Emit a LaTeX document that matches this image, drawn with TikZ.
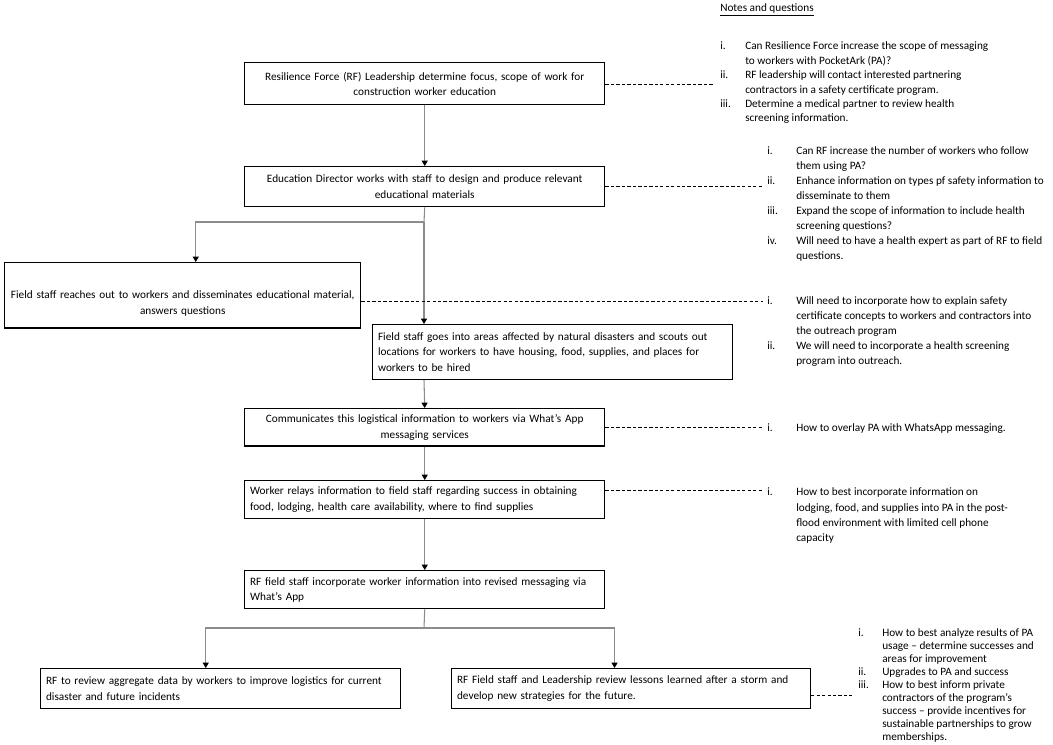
\documentclass[tikz,border=0pt]{standalone}
\usepackage{fontspec}
\setmainfont{Carlito}
\usetikzlibrary{positioning, calc, arrows.meta}

\begin{document}
\begin{tikzpicture}[x=0.75pt, y=-0.75pt]
  \tikzstyle{stepbox}=[draw, line width=1.1pt, anchor=north west, inner xsep=4pt, inner ysep=2pt, font=\fontsize{8.45}{11.6}\selectfont]
  \tikzstyle{midbox}=[stepbox, align=center, text width=262pt]
  \tikzstyle{leftbox}=[stepbox, align=left, text width=262pt]
  \tikzstyle{trunk}=[draw=black!45, line width=0.8pt]
  \tikzstyle{flow}=[trunk, -{Triangle[black, width=4.5pt, length=4pt]}]
  \tikzstyle{notelink}=[draw, dash pattern=on 2.5pt off 1.6pt, line width=0.6pt]
  \tikzstyle{notes}=[anchor=north west, inner sep=0pt, align=left, font=\fontsize{8.45}{11.3}\selectfont]

  \useasboundingbox (0,0) rectangle (1053,745);
  \fill[white] (0,0) rectangle (1053,745);

  % flow boxes
  \node (lead) at (244,62) [midbox, minimum height=31.5pt] {Resilience Force (RF) Leadership determine focus, scope of work for\\construction worker education};
  \node (edu) at (244,166) [midbox, minimum height=30pt] {Education Director works with staff to design and produce relevant\\educational materials};
  \node (reach) at (4,262) [midbox, inner xsep=1pt, text width=265pt, minimum height=49pt] {\rule{0pt}{18pt}Field staff reaches out to workers and disseminates educational material,\\answers questions};
  \node (scout) at (372,324) [leftbox, minimum height=41pt] {Field staff goes into areas affected by natural disasters and scouts out\\locations for workers to have housing, food, supplies, and places for\\workers to be hired};
  \node (comm) at (244,408) [midbox, minimum height=28pt] {Communicates this logistical information to workers via What’s App\\messaging services};
  \node (relay) at (244,480) [leftbox, minimum height=28.5pt] {Worker relays information to field staff regarding success in obtaining\\food, lodging, health care availability, where to find supplies};
  \node (revise) at (244,570) [leftbox, minimum height=28.5pt] {RF field staff incorporate worker information into revised messaging via\\What’s App};
  \node (review) at (40,668) [leftbox, minimum height=30pt] {RF to review aggregate data by workers to improve logistics for current\\disaster and future incidents};
  \node (lessons) at (451,668) [leftbox, text width=261pt, minimum height=30pt] {RF Field staff and Leadership review lessons learned after a storm and\\develop new strategies for the future.};

  % connectors
  \coordinate (split1) at (424,222);
  \coordinate (split2) at (424,628);
  \draw[flow] (lead) -- (edu);
  \draw[trunk] (edu.south) -- (split1);
  \draw[flow] (split1) -| ([xshift=9.75pt]reach.north);
  \draw[flow] (split1) -- (split1 |- scout.north);
  \draw[flow] (scout.south -| split1) -- (comm.north);
  \draw[flow] (comm) -- (relay);
  \draw[flow] (relay) -- (revise);
  \draw[trunk] (revise.south) -- (split2);
  \draw[flow] (split2) -| ([xshift=-11.25pt]review.north);
  \draw[flow] (split2) -| ([xshift=-12.4pt]lessons.north);

  % notes
  \node (title) at (720,10) [anchor=west, inner sep=0pt, font=\fontsize{8.45}{11.3}\selectfont] {\underline{Notes and questions}};
  \node (n1) at (720,39.5) [notes, font=\fontsize{8.45}{10.8}\selectfont] {\begin{tabular}{@{}p{18.75pt}@{}l@{}}
    i. & Can Resilience Force increase the scope of messaging\\
       & to workers with PocketArk (PA)?\\
    ii. & RF leadership will contact interested partnering\\
       & contractors in a safety certificate program.\\
    iii. & Determine a medical partner to review health\\
       & screening information.
  \end{tabular}};
  \node (n2) at (767,143.5) [notes] {\begin{tabular}{@{}p{21.75pt}@{}l@{}}
    i. & Can RF increase the number of workers who follow\\
       & them using PA?\\
    ii. & Enhance information on types pf safety information to\\
       & disseminate to them\\
    iii. & Expand the scope of information to include health\\
       & screening questions?\\
    iv. & Will need to have a health expert as part of RF to field\\
       & questions.
  \end{tabular}};
  \node (n3) at (767,293.5) [notes] {\begin{tabular}{@{}p{21.75pt}@{}l@{}}
    i. & Will need to incorporate how to explain safety\\
       & certificate concepts to workers and contractors into\\
       & the outreach program\\
    ii. & We will need to incorporate a health screening\\
       & program into outreach.
  \end{tabular}};
  \node (n4) at (767,420.5) [notes] {\begin{tabular}{@{}p{21.75pt}@{}l@{}}
    i. & How to overlay PA with WhatsApp messaging.
  \end{tabular}};
  \node (n5) at (767,484.5) [notes, font=\fontsize{8.45}{11.6}\selectfont] {\begin{tabular}{@{}p{21.75pt}@{}l@{}}
    i. & How to best incorporate information on\\
       & lodging, food, and supplies into PA in the post-\\
       & flood environment with limited cell phone\\
       & capacity
  \end{tabular}};
  \node (n6) at (858,627) [notes, font=\fontsize{8.45}{9.8}\selectfont] {\begin{tabular}{@{}p{18pt}@{}l@{}}
    i. & How to best analyze results of PA\\
       & usage – determine successes and\\
       & areas for improvement\\
    ii. & Upgrades to PA and success\\
    iii. & How to best inform private\\
       & contractors of the program's\\
       & success – provide incentives for\\
       & sustainable partnerships to grow\\
       & memberships.
  \end{tabular}};

  % dashed links to the notes
  \coordinate (d1) at (713,84);
  \coordinate (d2) at (763,186);
  \coordinate (d3) at (763,301);
  \coordinate (d4) at (763,427);
  \coordinate (d5) at (763,490);
  \coordinate (d6) at (852,695);
  \draw[notelink] (lead.east |- d1) -- (d1);
  \draw[notelink] (edu.east |- d2) -- (d2);
  \draw[notelink] (reach.east |- d3) -- (d3);
  \draw[notelink] (comm.east |- d4) -- (d4);
  \draw[notelink] (relay.east |- d5) -- (d5);
  \draw[notelink] (lessons.east |- d6) -- (d6);
\end{tikzpicture}
\end{document}
